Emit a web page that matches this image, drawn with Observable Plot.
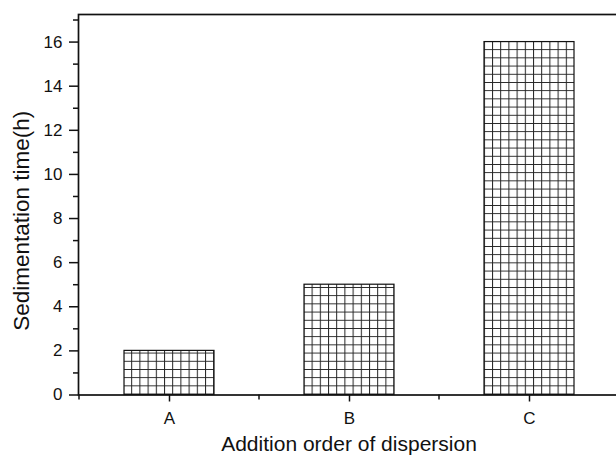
<!DOCTYPE html>
<html><head><meta charset="utf-8">
<script src="https://cdn.jsdelivr.net/npm/d3@7"></script>
<script src="https://cdn.jsdelivr.net/npm/@observablehq/plot@0.6"></script>
<style>
html,body{margin:0;padding:0;overflow:hidden;background:#fff}
#chart svg{max-width:none !important;height:457px !important}
</style>
</head><body>
<svg width="0" height="0" style="position:absolute">
<defs><pattern id="grid" patternUnits="userSpaceOnUse" width="8.2" height="8.2">
<rect width="8.2" height="8.2" fill="#fff"/>
<path d="M0,0.5H8.2M0.5,0V8.2" stroke="#222" stroke-width="1" fill="none"/>
</pattern></defs></svg>
<div id="chart"></div>
<script>
const categories = ["A", "B", "C"];
const sedimentationHours = [2, 5, 16];
const yMajorTicks = [0, 2, 4, 6, 8, 10, 12, 14, 16];
const yMinorTicks = [1, 3, 5, 7, 9, 11, 13, 15, 17];
const xTitle = "Addition order of dispersion";
const yTitle = "Sedimentation time(h)";

const data = categories.map((c, i) => ({cat: c, hours: sedimentationHours[i]}));

function minorXTicks(index, scales, values, dimensions) {
  const x = scales.x;
  const bw = typeof x.bandwidth === "function" ? x.bandwidth() : x.bandwidth;
  const step = x(categories[1]) - x(categories[0]);
  const off = (step - bw) / 2;
  const y0 = dimensions.height - dimensions.marginBottom;
  const g = d3.create("svg:g").attr("stroke", "#111").attr("stroke-width", 1.5);
  const bounds = categories.map(c => x(c) - off);
  bounds.push(x(categories[categories.length - 1]) + bw + off);
  for (const b of bounds) g.append("line").attr("x1", b).attr("x2", b).attr("y1", y0).attr("y2", y0 + 5);
  return g.node();
}

const chart = Plot.plot({
  width: 620,
  height: 457,
  marginLeft: 78,
  marginRight: 1,
  marginTop: 14,
  marginBottom: 62.5,
  style: {fontFamily: "'Liberation Sans', Arial, sans-serif", fontSize: "17px", color: "#111", background: "#fff"},
  x: {domain: categories, paddingInner: 0.5, paddingOuter: 0.25},
  y: {domain: [0, 17.25]},
  marks: [
    Plot.barY(data, {x: "cat", y: "hours", fill: "url(#grid)", stroke: "#111", strokeWidth: 1.2}),
    Plot.axisY(yMajorTicks, {tickSize: 9, tickPadding: 7, strokeWidth: 1.5, label: null, fontSize: 17}),
    Plot.axisY(yMinorTicks, {tickSize: 5, strokeWidth: 1.5, tickFormat: () => "", label: null}),
    Plot.axisX({tickSize: 7, tickPadding: 10, strokeWidth: 1.5, label: null, fontSize: 17}),
    minorXTicks,
    Plot.frame({stroke: "#111", strokeWidth: 1.7}),
    Plot.text([xTitle], {frameAnchor: "bottom", textAnchor: "middle", lineAnchor: "middle", dy: 48.8, fontSize: 21, fill: "#111"}),
    Plot.text([yTitle], {frameAnchor: "left", textAnchor: "middle", lineAnchor: "middle", rotate: -90, dx: -57, dy: 16, fontSize: 22.5, fill: "#111"})
  ]
});
d3.select(chart).selectAll("text").each(function() {
  const t = this.textContent;
  if (t === xTitle) this.style.fontSize = "21px";
  else if (t === yTitle) this.style.fontSize = "22.5px";
  else this.style.fontSize = "17px";
});
document.getElementById("chart").appendChild(chart);
</script>
</body></html>
